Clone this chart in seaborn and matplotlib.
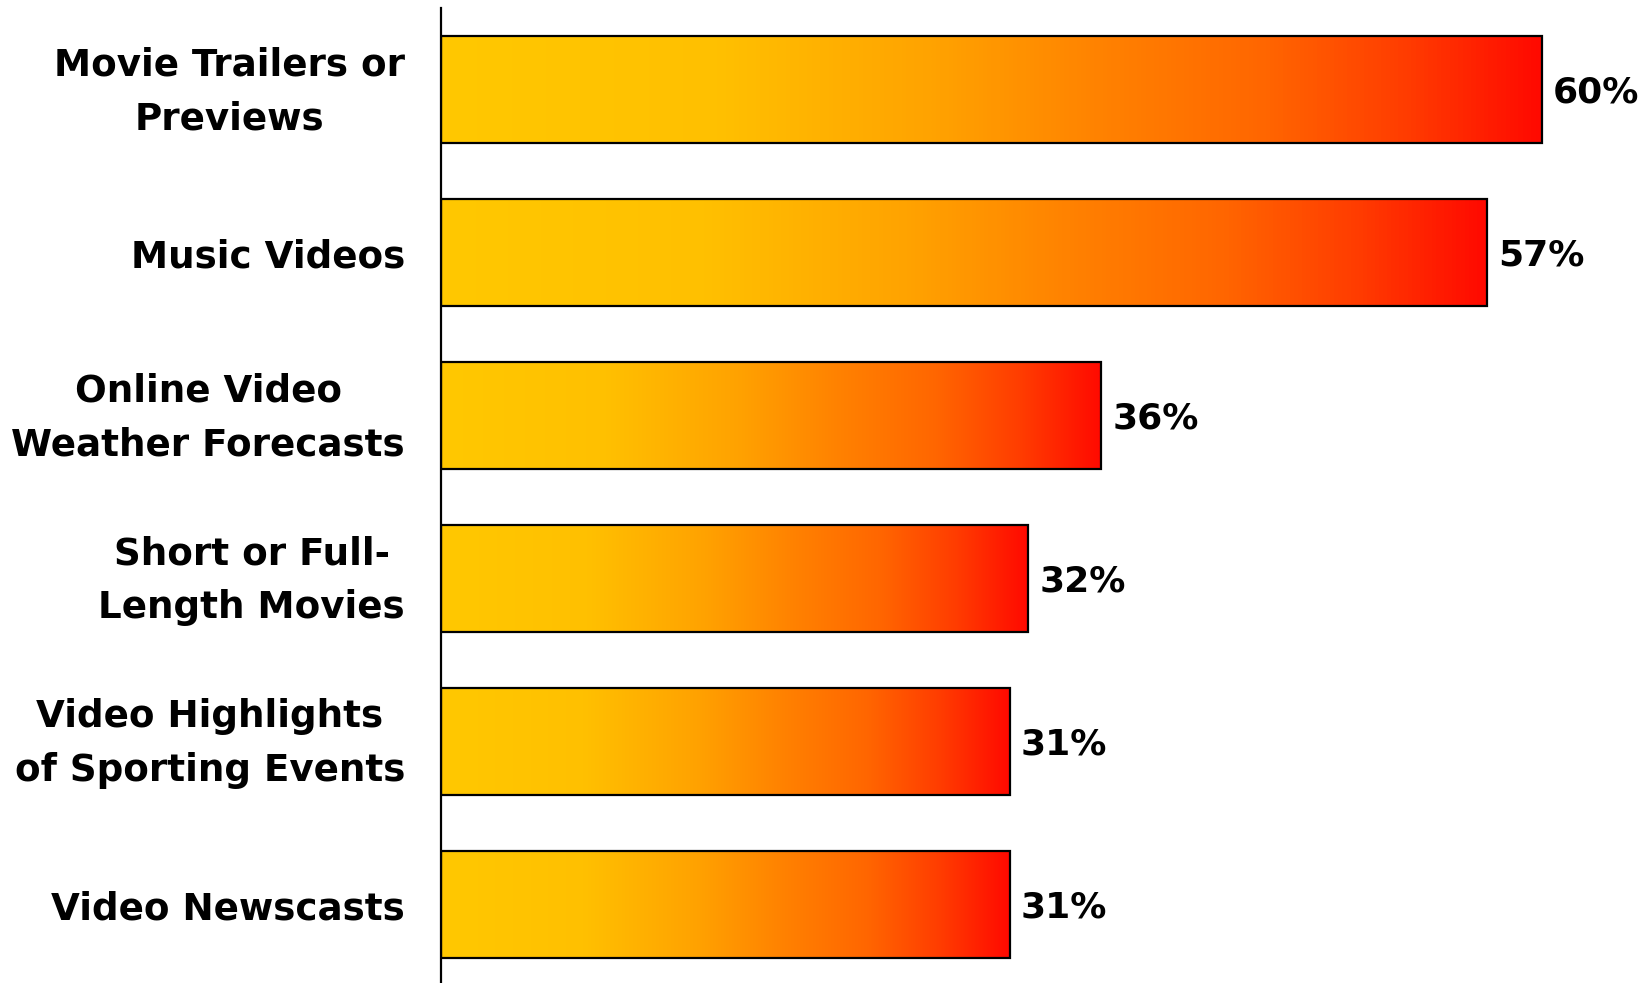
import numpy as np
import pandas as pd
import matplotlib
matplotlib.use("Agg")
import matplotlib.pyplot as plt
import matplotlib.transforms as mtransforms
from matplotlib.colors import LinearSegmentedColormap
import seaborn as sns

categories = [
    "Movie Trailers or\nPreviews",
    "Music Videos",
    "Online Video\nWeather Forecasts",
    "Short or Full-\nLength Movies",
    "Video Highlights\nof Sporting Events",
    "Video Newscasts",
]
values = [60, 57, 36, 32, 31, 31]
value_labels = ["60%", "57%", "36%", "32%", "31%", "31%"]

sns.set_theme(style="white")
plt.rcParams["font.family"] = ["DejaVu Sans"]

df = pd.DataFrame({"category": categories, "value": values})

fig = plt.figure(figsize=(16.48, 9.83), dpi=100)
ax = fig.add_axes([441 / 1648, -3 / 983, 1207 / 1648, 978 / 983])

sns.barplot(data=df, x="value", y="category", orient="h", ax=ax,
            width=0.656, color="white", edgecolor="black", linewidth=1.6,
            zorder=3)

# Yellow -> orange -> red fill, stretched across each bar's own length
grad = LinearSegmentedColormap.from_list(
    "warm",
    [(0.0, "#FFC800"), (0.25, "#FFC000"), (0.45, "#FFA200"),
     (0.6, "#FF8200"), (0.75, "#FF6600"), (0.88, "#FF3C00"),
     (1.0, "#FF0A00")],
)
ramp = np.linspace(0, 1, 256).reshape(1, -1)
for patch in ax.patches:
    x0, y0 = patch.get_x(), patch.get_y()
    w, h = patch.get_width(), patch.get_height()
    im = ax.imshow(ramp, cmap=grad, aspect="auto",
                   extent=[x0, x0 + w, y0 + h, y0], zorder=2,
                   interpolation="bilinear")
    im.set_clip_path(patch)
    patch.set_facecolor("none")

for i, (v, lab) in enumerate(zip(values, value_labels)):
    ax.annotate(lab, xy=(v, i), xytext=(8, -2), textcoords="offset points",
                va="center", ha="left",
                fontsize=26, fontweight="bold", color="black")

ax.set_xlim(0, 65.8)
ax.set_ylim(5.5, -0.5)
ax.set_xlabel("")
ax.set_ylabel("")
ax.set_xticks([])
ax.tick_params(axis="y", length=0, pad=26)

# Two-line labels sit centred on their bar
lift = mtransforms.ScaledTranslation(0, 7.5 / 72, fig.dpi_scale_trans)
for lab in ax.get_yticklabels():
    lab.set_fontsize(26.8)
    lab.set_fontweight("bold")
    lab.set_multialignment("center")
    lab.set_linespacing(1.6)
    lab.set_color("black")
    if "\n" in lab.get_text():
        lab.set_transform(lab.get_transform() + lift)

for side in ["top", "right", "bottom"]:
    ax.spines[side].set_visible(False)
ax.spines["left"].set_color("black")
ax.spines["left"].set_linewidth(1.6)
ax.set_facecolor("white")

fig.savefig("out.png", dpi=100, facecolor="white")
